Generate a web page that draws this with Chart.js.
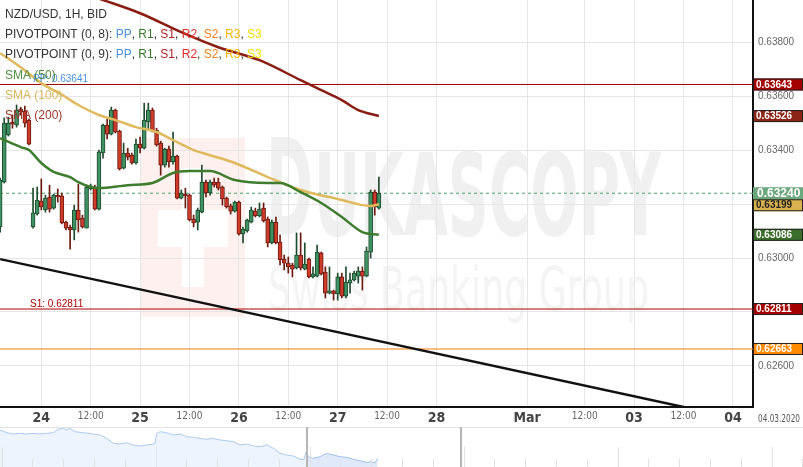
<!DOCTYPE html>
<html>
<head>
<meta charset="utf-8">
<script src="https://cdn.jsdelivr.net/npm/chart.js@4.4.1/dist/chart.umd.min.js"></script>
<style>
  html, body { margin:0; padding:0; background:#fff; }
  #wrap { position:relative; width:803px; height:467px; overflow:hidden; }
  #main { position:absolute; left:0; top:0; }
  #nav { position:absolute; left:0; top:427px; }
</style>
</head>
<body>
<div id="wrap">
  <canvas id="main" width="803" height="427"></canvas>
  <canvas id="nav" width="803" height="40"></canvas>
</div>
<script>
// hourly candles, hour 0 = 24 Feb 00:00 (weekend hours left out)
var hours = [-10,-9,-8,-7,-6,-5,-4,-3,-2,-1,
  0,1,2,3,4,5,6,7,8,9,10,11,12,13,14,15,16,17,18,19,
  20,21,22,23,24,25,26,27,28,29,30,31,32,33,34,35,36,37,38,39,
  40,41,42,43,44,45,46,47,48,49,50,51,52,53,54,55,56,57,58,59,
  60,61,62,63,64,65,66,67,68,69,70,71,72,73,74,75,76,77,78,79,
  80,81,82];
var opens = [0.63115,0.63281,0.63456,0.63504,0.63493,0.63552,0.63544,0.63511,0.63115,0.63163,
  0.63211,0.63178,0.63226,0.63185,0.63233,0.63230,0.63133,0.63115,0.63104,0.63178,
  0.63148,0.63111,0.63256,0.63263,0.63181,0.63389,0.63493,0.63459,0.63548,0.63470,
  0.63333,0.63389,0.63381,0.63352,0.63422,0.63407,0.63504,0.63548,0.63474,0.63426,
  0.63344,0.63404,0.63356,0.63378,0.63222,0.63237,0.63233,0.63144,0.63133,0.63170,
  0.63281,0.63241,0.63281,0.63281,0.63263,0.63222,0.63193,0.63174,0.63207,0.63089,
  0.63100,0.63133,0.63174,0.63156,0.63185,0.63144,0.63056,0.63133,0.63059,0.62996,
  0.62981,0.62974,0.62963,0.63011,0.62959,0.62996,0.62930,0.62933,0.63019,0.62948,
  0.62870,0.62878,0.62867,0.62930,0.62859,0.62907,0.62919,0.62933,0.62952,0.62933,
  0.63022,0.63244,0.63185];
var highs = [0.63296,0.63519,0.63522,0.63530,0.63567,0.63559,0.63563,0.63515,0.63259,0.63263,
  0.63293,0.63233,0.63270,0.63237,0.63256,0.63241,0.63137,0.63122,0.63196,0.63274,
  0.63159,0.63270,0.63274,0.63270,0.63400,0.63496,0.63515,0.63559,0.63552,0.63474,
  0.63426,0.63407,0.63389,0.63441,0.63448,0.63574,0.63574,0.63556,0.63481,0.63433,
  0.63407,0.63415,0.63467,0.63381,0.63252,0.63259,0.63237,0.63159,0.63185,0.63344,
  0.63289,0.63289,0.63296,0.63296,0.63267,0.63226,0.63200,0.63211,0.63211,0.63115,
  0.63144,0.63189,0.63185,0.63204,0.63204,0.63152,0.63141,0.63152,0.63085,0.63011,
  0.63004,0.62981,0.63093,0.63093,0.63056,0.63000,0.62967,0.63048,0.63022,0.62967,
  0.62967,0.62881,0.62944,0.62944,0.62967,0.62944,0.62952,0.62967,0.62967,0.63041,
  0.63252,0.63252,0.63300];
var lows = [0.63096,0.63278,0.63452,0.63481,0.63485,0.63530,0.63485,0.63419,0.63111,0.63159,
  0.63178,0.63170,0.63170,0.63181,0.63207,0.63126,0.63104,0.63033,0.63067,0.63096,
  0.63111,0.63111,0.63252,0.63178,0.63178,0.63370,0.63441,0.63456,0.63463,0.63326,
  0.63330,0.63363,0.63348,0.63348,0.63389,0.63404,0.63474,0.63467,0.63415,0.63307,
  0.63337,0.63337,0.63348,0.63219,0.63219,0.63185,0.63137,0.63115,0.63104,0.63167,
  0.63226,0.63233,0.63263,0.63252,0.63196,0.63185,0.63163,0.63170,0.63085,0.63056,
  0.63096,0.63130,0.63152,0.63152,0.63133,0.63041,0.63052,0.63052,0.62974,0.62956,
  0.62944,0.62930,0.62959,0.62956,0.62956,0.62926,0.62926,0.62930,0.62937,0.62852,
  0.62867,0.62844,0.62844,0.62852,0.62852,0.62870,0.62915,0.62907,0.62881,0.62930,
  0.63000,0.63159,0.63181];
var closes = [0.63289,0.63500,0.63500,0.63496,0.63548,0.63541,0.63500,0.63422,0.63167,0.63215,
  0.63189,0.63222,0.63181,0.63233,0.63226,0.63130,0.63111,0.63104,0.63178,0.63141,
  0.63115,0.63263,0.63267,0.63181,0.63393,0.63493,0.63459,0.63548,0.63467,0.63330,
  0.63389,0.63374,0.63352,0.63422,0.63407,0.63511,0.63548,0.63470,0.63419,0.63344,
  0.63404,0.63356,0.63378,0.63222,0.63241,0.63230,0.63141,0.63130,0.63178,0.63281,
  0.63241,0.63281,0.63270,0.63259,0.63219,0.63189,0.63174,0.63207,0.63089,0.63107,
  0.63141,0.63178,0.63156,0.63181,0.63137,0.63056,0.63133,0.63056,0.62993,0.62981,
  0.62967,0.62959,0.63011,0.62963,0.62978,0.62930,0.62941,0.63022,0.62941,0.62870,
  0.62878,0.62867,0.62930,0.62859,0.62911,0.62919,0.62944,0.62952,0.62933,0.63026,
  0.63244,0.63189,0.63240];

// moving averages
var sma50Hours = [-10,-5,-3,0,3,7,9,12,14,21,27,32,36,41,47,55,58,63,68,73,78,82];
var sma50Values = [0.63444,0.63411,0.63400,0.63352,0.63319,0.63300,0.63281,0.63263,0.63259,0.63270,0.63278,
  0.63315,0.63322,0.63322,0.63289,0.63278,0.63278,0.63244,0.63204,0.63152,0.63096,0.63086];
var sma100Hours = [-10,-5,0,5,9,14,18,23,28,32,37,41,47,55,63,72,80,82];
var sma100Values = [0.63759,0.63707,0.63648,0.63605,0.63567,0.63530,0.63511,0.63485,0.63467,0.63437,
  0.63400,0.63381,0.63352,0.63300,0.63252,0.63219,0.63193,0.63199];
var sma200Hours = [-10,15,24,34,43,53,63,68,73,77,82];
var sma200Values = [0.64085,0.63956,0.63907,0.63837,0.63781,0.63733,0.63659,0.63622,0.63585,0.63548,0.63526];

var trendHours = [-10, 173];
var trendValues = [0.62996, 0.62392];
var pivotLevels = [0.63643, 0.62811, 0.62663];   // PP, S1, S2
var ppCaption = 'PP: 0.63641';

var yTicks = [0.626, 0.628, 0.630, 0.632, 0.634, 0.636, 0.638];
var xTickHours = [0, 12, 24, 36, 48, 60, 72, 84, 96, 118, 132, 144, 156, 168];
var xTickLabels = ['24', '12:00', '25', '12:00', '26', '12:00', '27', '12:00', '28', 'Mar', '12:00', '03', '12:00', '04'];
var dateLabel = '04.03.2020';

// navigator (days), longer history
var navDays = [-0.05,0.17,0.38,0.60,0.82,1.03,1.25,1.47,1.68,1.85,2.01,2.12,2.22,2.39,2.66,2.98,
  3.20,3.41,3.63,3.85,4.06,4.28,4.50,4.71,4.88,4.98,5.04,5.15,5.36,5.58,5.80,6.01,6.23,6.45,
  6.66,6.88,7.09,7.31,7.53,7.74,7.96,8.18,8.39,8.61,8.83,9.04,9.26,9.48,9.69,9.82,9.89,9.96,
  10.12,10.34,10.56,10.77,10.99,11.21,11.42,11.64,11.86,11.96,12.13,12.21];
var navValues = [0.64261,0.64145,0.64087,0.64116,0.64087,0.64116,0.64087,0.64116,0.64145,0.64291,
  0.64334,0.64261,0.64334,0.64189,0.64145,0.64087,0.64043,0.63897,0.63679,0.63650,0.63708,0.63606,
  0.63562,0.63606,0.63635,0.63679,0.64116,0.64189,0.64145,0.64043,0.64087,0.63970,0.63941,0.63897,
  0.63854,0.63897,0.63824,0.63795,0.63751,0.63606,0.63650,0.63562,0.63533,0.63606,0.63460,0.63242,
  0.63169,0.63125,0.62980,0.62980,0.63314,0.63096,0.63023,0.63096,0.63242,0.63169,0.63096,0.63067,
  0.62980,0.62921,0.62834,0.62877,0.62834,0.63023];
var navWindow = [9.92, 14.92];

var xMin = -10.03, xMax = 172.88;
var yMin = 0.62448, yMax = 0.63956;

var sansFont = "'Liberation Sans', Arial, sans-serif";
var narrowFont = "'Liberation Sans Narrow', 'DejaVu Sans Condensed', 'Liberation Sans', sans-serif";
Chart.defaults.font.family = sansFont;

function toPoints(xs, ys) {
	return xs.map(function(x, i) { return {x: x, y: ys[i]}; });
}

var last = closes.length - 1;
var wickColors = [], bodyColors = [];
for (var i = 0; i < hours.length; i++) {
	var up = closes[i] >= opens[i];
	wickColors.push(up ? '#1e4b2d' : '#6b1a10');
	bodyColors.push(up ? '#3f9263' : '#cf3b29');
}

// draws text squeezed or stretched to a given width
function stretched(ctx, text, font, x, base, w, color) {
	ctx.font = font;
	var sx = w / ctx.measureText(text).width;
	ctx.save();
	ctx.translate(x, base);
	ctx.scale(sx, 1);
	ctx.fillStyle = color;
	ctx.textBaseline = 'alphabetic';
	ctx.fillText(text, 0, 0);
	ctx.restore();
}

var watermark = {
	id: 'watermark',
	beforeDraw: function(chart) {
		var ctx = chart.ctx;
		ctx.save();
		ctx.fillStyle = 'rgba(230,40,30,0.07)';
		ctx.fillRect(140, 138, 105, 179);
		ctx.fillStyle = '#fff';
		ctx.fillRect(182, 168, 22, 119);
		ctx.fillRect(158, 210, 70, 37);
		stretched(ctx, 'D', 'bold 134px ' + narrowFont, 266, 235, 47, '#f0f0f0');
		stretched(ctx, 'UKASCOPY', 'bold 114px ' + narrowFont, 314, 235, 347, '#f0f0f0');
		stretched(ctx, 'Swiss Banking Group', '60px ' + narrowFont, 268, 310, 381, '#f4f4f4');
		ctx.restore();
	}
};

var overlay = {
	id: 'overlay',
	afterDraw: function(chart) {
		var ctx = chart.ctx, ys = chart.scales.y, area = chart.chartArea;
		ctx.save();

		// captions on the pivot lines
		ctx.font = '10px ' + sansFont;
		ctx.textBaseline = 'alphabetic';
		ctx.fillStyle = '#4a90e2';
		ctx.fillText(ppCaption, 33, ys.getPixelForValue(pivotLevels[0]) - 2);
		ctx.fillStyle = '#b00000';
		ctx.fillText('S1: ' + pivotLevels[1].toFixed(5), 30, ys.getPixelForValue(pivotLevels[1]) - 2);

		// legend in the corner
		ctx.font = '12px ' + sansFont;
		ctx.textBaseline = 'middle';
		function parts(list, x, y) {
			list.forEach(function(p) {
				ctx.fillStyle = p[1];
				ctx.fillText(p[0], x, y);
				x += ctx.measureText(p[0]).width;
			});
		}
		function pivotRow(label) {
			var sep = '#333';
			return [[label, '#333'], ['PP', '#4a90e2'], [', ', sep], ['R1', '#3b7a2c'], [', ', sep],
				['S1', '#b22222'], [', ', sep], ['R2', '#e52a2a'], [', ', sep], ['S2', '#ff7f1a'], [', ', sep],
				['R3', '#f5b400'], [', ', sep], ['S3', '#f2e000']];
		}
		parts([['NZD/USD, 1H, BID', '#333']], 5, 15);
		parts(pivotRow('PIVOTPOINT (0, 8): '), 5, 35);
		parts(pivotRow('PIVOTPOINT (0, 9): '), 5, 55);
		parts([['SMA (50)', '#4d8a3d']], 5, 76);
		parts([['SMA (100)', '#d9b45a']], 5, 96);
		parts([['SMA (200)', '#a0382a']], 5, 116);

		// value badges on the price axis
		var badges = [
			{v: pivotLevels[0], bg: '#a50000', fg: '#fff'},
			{v: sma200Values[sma200Values.length - 1], bg: '#8c2417', fg: '#fff'},
			{v: closes[last], bg: '#6ba77c', fg: '#fff', big: true},
			{v: sma100Values[sma100Values.length - 1], bg: '#d9b24f', fg: '#222'},
			{v: sma50Values[sma50Values.length - 1], bg: '#3c6e2b', fg: '#fff'},
			{v: pivotLevels[1], bg: '#a50000', fg: '#fff'},
			{v: pivotLevels[2], bg: '#ff8a00', fg: '#fff'}
		];
		badges.forEach(function(b) { b.y = ys.getPixelForValue(b.v) - 6; });
		badges.sort(function(a, b) { return a.y - b.y; });
		var prev = -100;
		badges.forEach(function(b) {
			if (b.y < prev) b.y = prev;
			prev = b.y + 12;
			var x = area.right;
			ctx.fillStyle = b.bg;
			ctx.fillRect(x, b.y, 50, 12);
			if (!b.big) {
				ctx.strokeStyle = '#222';
				ctx.lineWidth = 1;
				ctx.strokeRect(x + 0.5, b.y + 0.5, 49, 11);
			}
			ctx.fillStyle = b.fg;
			ctx.font = b.big ? 'bold 12px ' + sansFont : 'bold 10px ' + sansFont;
			ctx.textBaseline = 'middle';
			ctx.fillText(b.v.toFixed(5), x + (b.big ? 4 : 3), b.y + 6.5);
		});

		stretched(ctx, dateLabel, '10px ' + narrowFont, area.right + 5, area.bottom + 15, 42, '#555');
		ctx.restore();
	}
};

function levelLine(v, color, dash) {
	return {
		type: 'line', data: [{x: xMin, y: v}, {x: xMax, y: v}],
		borderColor: color, borderWidth: 1, borderDash: dash || [], pointRadius: 0, order: 9
	};
}

new Chart(document.getElementById('main'), {
	type: 'bar',
	data: {
		datasets: [
			levelLine(pivotLevels[0], '#a00000'),
			levelLine(pivotLevels[1], '#b00000'),
			levelLine(pivotLevels[2], '#ff8000'),
			levelLine(closes[last], '#4aa56e', [3, 3]),
			{
				type: 'line', data: toPoints(trendHours, trendValues),
				borderColor: '#111', borderWidth: 2.5, pointRadius: 0, order: 8
			},
			{
				type: 'bar', data: hours.map(function(h, i) { return {x: h, y: [lows[i], highs[i]]}; }),
				backgroundColor: wickColors, barThickness: 1, grouped: false, order: 6
			},
			{
				type: 'bar', data: hours.map(function(h, i) { return {x: h, y: [opens[i], closes[i]]}; }),
				backgroundColor: bodyColors, borderColor: wickColors, borderWidth: 1,
				borderSkipped: false, barThickness: 4, grouped: false, order: 5
			},
			{
				type: 'line', data: toPoints(sma200Hours, sma200Values), borderColor: '#8b1c12',
				borderWidth: 2.5, pointRadius: 0, cubicInterpolationMode: 'monotone', order: 3
			},
			{
				type: 'line', data: toPoints(sma100Hours, sma100Values), borderColor: '#e0b95c',
				borderWidth: 2.5, pointRadius: 0, cubicInterpolationMode: 'monotone', order: 2
			},
			{
				type: 'line', data: toPoints(sma50Hours, sma50Values), borderColor: '#3e7d2e',
				borderWidth: 2.5, pointRadius: 0, cubicInterpolationMode: 'monotone', order: 1
			}
		]
	},
	options: {
		responsive: false,
		animation: false,
		events: [],
		layout: {padding: 0, autoPadding: false},
		plugins: {legend: {display: false}, tooltip: {enabled: false}},
		scales: {
			x: {
				type: 'linear', min: xMin, max: xMax, offset: false,
				afterBuildTicks: function(axis) {
					axis.ticks = xTickHours.map(function(v) { return {value: v}; });
				},
				afterFit: function(axis) {
					axis.height = 20;
					axis.paddingLeft = 0;
					axis.paddingRight = 0;
				},
				grid: {color: '#e6e6e6', drawTicks: false, offset: false},
				border: {display: true, color: '#111', width: 2},
				ticks: {
					autoSkip: false, maxRotation: 0, padding: 3,
					callback: function(v) {
						var k = xTickHours.indexOf(v);
						return k >= 0 ? xTickLabels[k] : '';
					},
					color: function(c) { return c.tick && c.tick.label === '12:00' ? '#666' : '#444'; },
					font: function(c) {
						return c.tick && c.tick.label === '12:00'
							? {size: 10, family: narrowFont}
							: {size: 14, weight: 'bold', family: narrowFont};
					}
				}
			},
			y: {
				type: 'linear', position: 'right', min: yMin, max: yMax,
				afterBuildTicks: function(axis) {
					axis.ticks = yTicks.map(function(v) { return {value: v}; });
				},
				afterFit: function(axis) {
					axis.width = 50;
					axis.paddingTop = 0;
					axis.paddingBottom = 0;
				},
				grid: {color: '#e6e6e6', drawTicks: false},
				border: {display: true, color: '#111', width: 2},
				ticks: {
					padding: 5, color: '#666', font: {size: 10},
					callback: function(v) { return v.toFixed(5); }
				}
			}
		}
	},
	plugins: [watermark, overlay]
});

// navigator strip under the chart
var navSplit = navDays.indexOf(9.89);
var navDecor = {
	id: 'navDecor',
	afterDraw: function(chart) {
		var ctx = chart.ctx, xs = chart.scales.x, h = chart.height;
		ctx.save();
		ctx.strokeStyle = '#e2e2e2';
		ctx.lineWidth = 1;
		ctx.beginPath();
		ctx.moveTo(0, 0.5); ctx.lineTo(chart.width, 0.5);
		for (var d = 0; d <= 26; d++) {
			var px = Math.round(xs.getPixelForValue(d)) + 0.5;
			ctx.moveTo(px, d % 5 === 0 ? 20 : 32);
			ctx.lineTo(px, h);
		}
		ctx.stroke();
		ctx.strokeStyle = '#b5b5b5';
		ctx.lineWidth = 2;
		ctx.beginPath();
		navWindow.forEach(function(d) {
			var px = Math.round(xs.getPixelForValue(d));
			ctx.moveTo(px, 0); ctx.lineTo(px, h);
		});
		ctx.stroke();
		ctx.restore();
	}
};

new Chart(document.getElementById('nav'), {
	type: 'line',
	data: {
		datasets: [
			{
				data: toPoints(navDays.slice(0, navSplit + 1), navValues.slice(0, navSplit + 1)),
				borderColor: '#abc9f3', borderWidth: 1, backgroundColor: '#eef4fd',
				fill: 'start', pointRadius: 0
			},
			{
				data: toPoints(navDays.slice(navSplit), navValues.slice(navSplit)),
				borderColor: '#9fc0f0', borderWidth: 1, backgroundColor: '#dfe9fa',
				fill: 'start', pointRadius: 0
			}
		]
	},
	options: {
		responsive: false,
		animation: false,
		events: [],
		layout: {padding: 0, autoPadding: false},
		plugins: {legend: {display: false}, tooltip: {enabled: false}},
		scales: {
			x: {type: 'linear', display: false, min: -0.05, max: 26.02},
			y: {display: false, min: 0.62645, max: 0.64393}
		}
	},
	plugins: [navDecor]
});
</script>
</body>
</html>
